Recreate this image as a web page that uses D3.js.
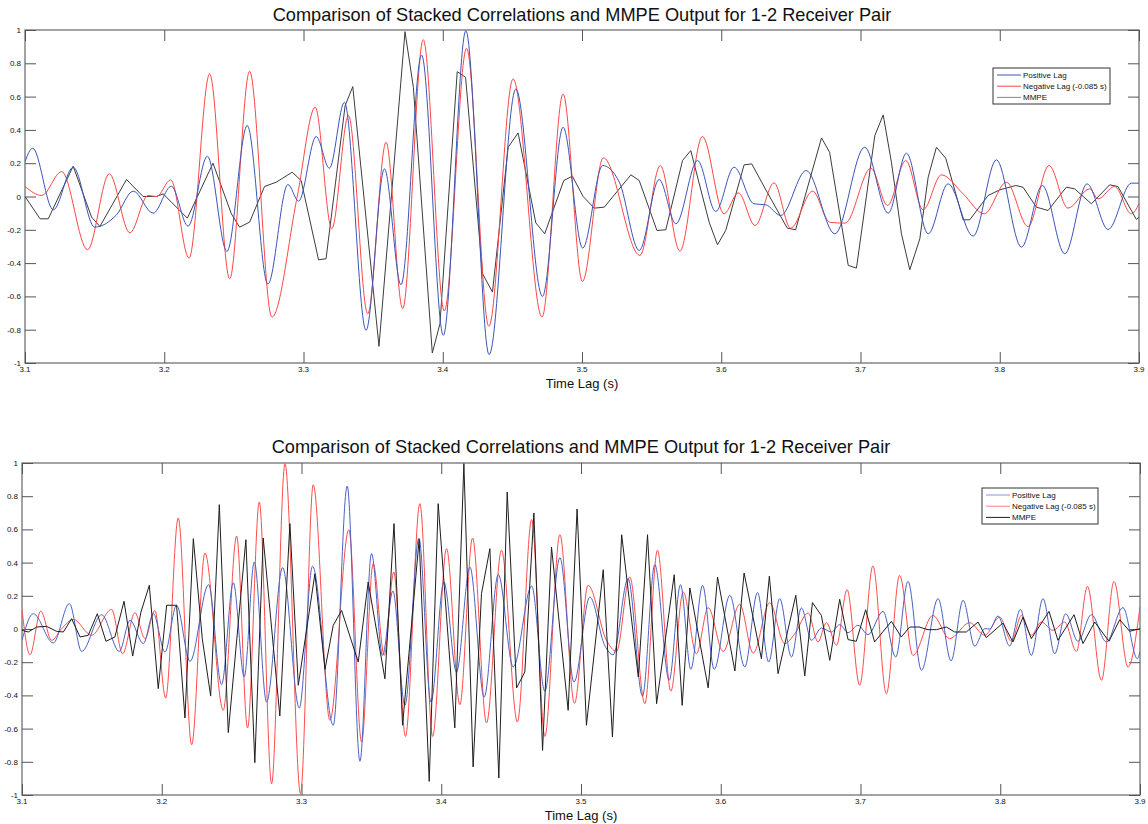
<!DOCTYPE html>
<html><head><meta charset="utf-8">
<script src="https://cdn.jsdelivr.net/npm/d3@7"></script>
<style>body{margin:0;background:#fff} text{font-family:"Liberation Sans",Arial,sans-serif;fill:#111}</style>
</head><body><svg id="c" width="1148" height="824"></svg>
<script>
const xTicks = [3.1,3.2,3.3,3.4,3.5,3.6,3.7,3.8,3.9];
const yTicks = [-1,-0.8,-0.6,-0.4,-0.2,0,0.2,0.4,0.6,0.8,1];
const seriesNames = ["Positive Lag","Negative Lag (-0.085 s)","MMPE"];
const titleText = "Comparison of Stacked Correlations and MMPE Output for 1-2 Receiver Pair";
const xLabelText = "Time Lag (s)";

const topPositive = [[3.1,0.21],[3.1055,0.29],[3.1203,-0.08],[3.1346,0.176],[3.150,-0.184],[3.1657,-0.11],[3.1777,0.032],[3.192,-0.10],[3.2051,0.062],[3.2171,-0.178],[3.231,0.242],[3.245,-0.33],[3.2596,0.426],[3.2744,-0.526],[3.2888,0.072],[3.2965,-0.028],[3.3091,0.36],[3.3186,0.17],[3.3294,0.566],[3.3449,-0.804],[3.3581,0.166],[3.370,-0.53],[3.3848,0.85],[3.4004,-0.834],[3.4166,0.996],[3.4333,-0.95],[3.4525,0.646],[3.4716,-0.60],[3.4864,0.416],[3.5005,-0.31],[3.5148,0.186],[3.5268,0.086],[3.5411,-0.324],[3.5554,0.102],[3.5674,-0.164],[3.583,0.216],[3.596,-0.09],[3.6092,0.176],[3.6235,-0.044],[3.632,-0.05],[3.6427,-0.114],[3.661,0.156],[3.6816,-0.224],[3.703,0.296],[3.7199,-0.10],[3.733,0.26],[3.7486,-0.224],[3.7629,0.076],[3.7809,-0.238],[3.7976,0.22],[3.8156,-0.304],[3.8306,0.066],[3.8467,-0.344],[3.8627,0.076],[3.8778,-0.198],[3.8945,0.08],[3.9,0.08]];

const topNegative = [[3.1,0.06],[3.112,0.006],[3.1263,0.15],[3.1449,-0.32],[3.1605,0.136],[3.1753,-0.218],[3.1884,0.006],[3.1944,0.0],[3.2047,0.10],[3.2178,-0.37],[3.2326,0.736],[3.247,-0.494],[3.2613,0.752],[3.2773,-0.724],[3.2955,0.0],[3.3084,0.536],[3.3203,-0.194],[3.3323,0.486],[3.3461,-0.704],[3.3593,0.326],[3.3712,-0.674],[3.386,0.942],[3.4011,-0.688],[3.4171,0.89],[3.4331,-0.78],[3.4505,0.706],[3.4713,-0.724],[3.4864,0.616],[3.5003,-0.51],[3.5153,0.232],[3.5416,-0.354],[3.5562,0.186],[3.5703,-0.328],[3.5865,0.36],[3.602,-0.104],[3.6123,0.022],[3.6243,-0.174],[3.6379,0.082],[3.6498,-0.19],[3.6656,0.032],[3.678,-0.155],[3.689,-0.16],[3.7075,0.17],[3.7194,-0.054],[3.7325,0.216],[3.745,-0.08],[3.7581,0.13],[3.7737,0.016],[3.7888,-0.104],[3.8048,0.086],[3.8203,-0.18],[3.8354,0.186],[3.849,-0.07],[3.8646,0.046],[3.8706,-0.014],[3.8825,0.06],[3.8945,-0.104],[3.9,-0.044]];

const topMMPE = [[3.1,0],[3.1108,-0.134],[3.1167,-0.134],[3.1346,0.182],[3.1478,-0.124],[3.1538,-0.18],[3.1729,0.102],[3.1848,0],[3.1944,0],[3.1992,0.016],[3.2111,-0.084],[3.2166,-0.13],[3.235,0.2],[3.2482,-0.104],[3.2541,-0.184],[3.2613,-0.154],[3.272,0.06],[3.2804,0.086],[3.2919,0.146],[3.2983,0.096],[3.3108,-0.38],[3.3162,-0.374],[3.3299,0.546],[3.3354,0.66],[3.3542,-0.90],[3.3729,0.99],[3.3789,0.656],[3.3925,-0.94],[3.398,-0.764],[3.4104,0.75],[3.4164,0.716],[3.4286,-0.464],[3.4357,-0.574],[3.447,0.296],[3.4541,0.382],[3.4668,-0.158],[3.4732,-0.224],[3.4869,0.096],[3.4931,0.122],[3.5008,0.0],[3.5088,-0.07],[3.516,-0.064],[3.5351,0.13],[3.5411,0.096],[3.5538,-0.204],[3.5602,-0.2],[3.5722,0.216],[3.5781,0.276],[3.5913,-0.154],[3.5973,-0.29],[3.6032,-0.204],[3.6164,0.19],[3.6219,0.196],[3.6307,0.06],[3.6474,-0.19],[3.6534,-0.2],[3.672,0.352],[3.6778,0.266],[3.6912,-0.414],[3.6971,-0.43],[3.7103,0.366],[3.7163,0.49],[3.7222,0.206],[3.7294,-0.224],[3.7354,-0.44],[3.7426,-0.254],[3.7486,0.116],[3.7545,0.296],[3.7612,0.23],[3.7737,-0.14],[3.7785,-0.14],[3.7916,0.006],[3.80,0.04],[3.8115,0.066],[3.8167,0.056],[3.8263,-0.064],[3.8347,-0.084],[3.8478,0.056],[3.8538,0.046],[3.8658,-0.044],[3.8789,0.07],[3.8849,0.06],[3.8981,-0.138],[3.9,-0.124]];

const bottomPositive = [[3.1,-0.068],[3.1081,0.092],[3.1224,-0.084],[3.1339,0.153],[3.1427,-0.135],[3.157,0.086],[3.1696,-0.135],[3.1773,0.052],[3.1868,-0.088],[3.194,0.092],[3.2023,-0.139],[3.2106,0.143],[3.2202,-0.195],[3.2335,0.267],[3.2428,-0.335],[3.2512,0.279],[3.259,-0.289],[3.2662,0.404],[3.275,-0.44],[3.2865,0.37],[3.2984,-0.476],[3.3079,0.378],[3.3227,-0.58],[3.3327,0.861],[3.3418,-0.797],[3.3501,0.454],[3.358,-0.159],[3.3654,0.229],[3.374,-0.46],[3.384,0.548],[3.3926,-0.44],[3.4019,0.283],[3.4109,-0.259],[3.4205,0.373],[3.4307,-0.41],[3.4408,0.329],[3.4515,-0.229],[3.4647,0.259],[3.4741,-0.375],[3.4849,0.43],[3.495,-0.32],[3.5063,0.193],[3.517,-0.1],[3.523,-0.155],[3.5337,0.303],[3.544,-0.404],[3.5528,0.388],[3.5631,-0.309],[3.5712,0.267],[3.5786,-0.243],[3.587,0.263],[3.5953,-0.243],[3.6065,0.203],[3.6172,-0.229],[3.6263,0.22],[3.6343,-0.199],[3.6422,0.183],[3.6506,-0.169],[3.6577,0.127],[3.6649,-0.068],[3.672,0.006],[3.6792,-0.018],[3.6851,0.026],[3.6911,-0.022],[3.6982,0.022],[3.7054,-0.034],[3.7161,0.106],[3.7252,-0.169],[3.734,0.287],[3.7436,-0.249],[3.7555,0.183],[3.7648,-0.192],[3.7734,0.173],[3.7817,-0.104],[3.7889,0.002],[3.7925,0.0],[3.7984,0.078],[3.8067,-0.102],[3.8144,0.118],[3.8222,-0.159],[3.8306,0.183],[3.839,-0.149],[3.8468,0.092],[3.8556,-0.074],[3.8652,0.086],[3.8759,-0.078],[3.8878,0.129],[3.8981,-0.179],[3.9,-0.135]];

const bottomNegative = [[3.1,0.116],[3.1057,-0.155],[3.1134,0.108],[3.1212,-0.068],[3.1284,0.002],[3.1367,0.058],[3.1498,-0.038],[3.1641,0.118],[3.172,-0.149],[3.1808,0.098],[3.188,-0.058],[3.1951,0.112],[3.2028,-0.416],[3.2118,0.669],[3.2214,-0.697],[3.2309,0.458],[3.244,-0.49],[3.2536,0.56],[3.2614,-0.596],[3.2698,0.765],[3.2786,-0.932],[3.2882,0.996],[3.2993,-0.992],[3.3084,0.869],[3.3203,-0.55],[3.3339,0.598],[3.343,-0.681],[3.3513,0.394],[3.3592,-0.159],[3.366,0.343],[3.3744,-0.647],[3.3847,0.755],[3.3938,-0.647],[3.4038,0.484],[3.4133,-0.456],[3.4224,0.548],[3.4324,-0.566],[3.4431,0.474],[3.4545,-0.56],[3.4647,0.659],[3.4741,-0.647],[3.4849,0.568],[3.4953,-0.448],[3.5051,0.263],[3.5182,-0.068],[3.5254,-0.135],[3.5349,0.313],[3.5457,-0.45],[3.5547,0.474],[3.5643,-0.374],[3.5731,0.223],[3.5826,-0.149],[3.591,0.129],[3.6017,-0.135],[3.6136,0.149],[3.6232,-0.145],[3.635,0.158],[3.6458,-0.088],[3.653,-0.028],[3.6625,0.096],[3.6696,-0.078],[3.6756,0.038],[3.6828,-0.098],[3.6904,0.237],[3.6994,-0.339],[3.7089,0.38],[3.7185,-0.39],[3.728,0.323],[3.7375,-0.159],[3.7518,0.082],[3.7637,-0.058],[3.7781,0.038],[3.7889,-0.038],[3.7996,0.072],[3.808,-0.074],[3.8152,0.082],[3.8222,-0.038],[3.8294,0.042],[3.8378,-0.008],[3.8461,0.042],[3.8545,-0.135],[3.8624,0.257],[3.8724,-0.309],[3.8814,0.287],[3.8914,-0.229],[3.9,0.133]];

const bottomMMPE = [[3.1,-0.008],[3.1045,-0.018],[3.1105,0.012],[3.1176,0.016],[3.1248,-0.014],[3.1296,-0.018],[3.1355,0.062],[3.1415,-0.048],[3.1474,-0.038],[3.1539,0.092],[3.1601,-0.074],[3.1665,-0.048],[3.173,0.167],[3.1792,-0.163],[3.1851,0.102],[3.1911,0.263],[3.1975,-0.359],[3.2035,0.143],[3.2106,0.143],[3.2166,-0.536],[3.2226,0.544],[3.229,-0.058],[3.235,-0.404],[3.2412,0.749],[3.2476,-0.624],[3.2602,0.538],[3.2666,-0.805],[3.2726,0.548],[3.2845,-0.524],[3.2917,0.635],[3.2977,-0.339],[3.3096,0.333],[3.3168,-0.243],[3.3227,0.022],[3.3287,0.112],[3.3406,-0.199],[3.3477,0.283],[3.3597,-0.30],[3.3662,0.635],[3.3723,-0.58],[3.3842,0.54],[3.3914,-0.918],[3.3978,0.755],[3.4097,-0.596],[3.4162,0.996],[3.4228,-0.831],[3.4288,0.213],[3.4348,0.484],[3.4412,-0.898],[3.4472,0.825],[3.4539,-0.355],[3.4598,-0.259],[3.4663,0.699],[3.4725,-0.731],[3.4789,0.494],[3.4908,-0.49],[3.4972,0.723],[3.5039,-0.58],[3.5159,0.357],[3.5225,-0.651],[3.5291,0.568],[3.541,-0.289],[3.5476,0.568],[3.5541,-0.45],[3.5667,0.327],[3.5724,-0.46],[3.5779,0.247],[3.591,-0.355],[3.5977,0.313],[3.6101,-0.253],[3.6167,0.337],[3.6291,-0.179],[3.6348,0.319],[3.641,-0.269],[3.6537,0.203],[3.6601,-0.283],[3.6656,0.159],[3.672,0.082],[3.678,-0.189],[3.6851,0.179],[3.6911,-0.064],[3.697,-0.074],[3.7037,0.116],[3.7101,-0.078],[3.7221,0.046],[3.7292,-0.048],[3.7352,0.012],[3.7419,0.012],[3.7483,-0.004],[3.7543,-0.004],[3.7614,0.012],[3.7674,-0.018],[3.7757,-0.018],[3.7841,0.042],[3.79,-0.052],[3.8019,0.036],[3.8091,-0.078],[3.8163,0.072],[3.8222,-0.058],[3.8349,0.106],[3.8413,-0.068],[3.8528,0.086],[3.8592,-0.088],[3.8676,0.042],[3.8778,-0.074],[3.8855,0.056],[3.8926,-0.014],[3.9,0.002]];

const svg = d3.select("#c");

function panel(cfg){
  const g = svg.append("g");
  const x = d3.scaleLinear().domain([3.1,3.9]).range([cfg.left,cfg.right]);
  const y = d3.scaleLinear().domain([-1,1]).range([cfg.bottom,cfg.top]);
  const tl = 11;
  g.append("rect").attr("x",cfg.left).attr("y",cfg.top).attr("width",cfg.right-cfg.left).attr("height",cfg.bottom-cfg.top)
    .attr("fill","none").attr("stroke","#666").attr("stroke-width",1.2);
  const fmt = d => String(+d.toFixed(1));
  const ax = [
    [d3.axisBottom(x).tickValues(xTicks).tickSize(tl).tickFormat(""), `translate(0,${cfg.bottom-tl})`],
    [d3.axisTop(x).tickValues(xTicks).tickSize(tl).tickFormat(""), `translate(0,${cfg.top+tl})`],
    [d3.axisLeft(y).tickValues(yTicks).tickSize(tl).tickFormat(""), `translate(${cfg.left+tl},0)`],
    [d3.axisRight(y).tickValues(yTicks).tickSize(tl).tickFormat(""), `translate(${cfg.right-tl},0)`]
  ];
  ax.forEach(([a,t])=>{
    const ag = g.append("g").attr("transform",t).call(a);
    ag.select(".domain").remove();
    ag.selectAll("line").attr("stroke","#555");
  });
  g.append("g").selectAll("text").data(xTicks).join("text")
    .attr("x",d=>x(d)).attr("y",cfg.bottom+9).attr("text-anchor","middle")
    .attr("font-size",8).text(d=>d.toFixed(1));
  g.append("g").selectAll("text").data(yTicks).join("text")
    .attr("x",cfg.left-4).attr("y",d=>y(d)+3).attr("text-anchor","end")
    .attr("font-size",8).text(fmt);
  g.append("text").attr("x",(cfg.left+cfg.right)/2).attr("y",cfg.titleY).attr("text-anchor","middle")
    .attr("font-size",18.2).text(titleText);
  g.append("text").attr("x",(cfg.left+cfg.right)/2).attr("y",cfg.xlabelY).attr("text-anchor","middle")
    .attr("font-size",13).text(xLabelText);
  const smooth = d3.line().x(d=>x(d[0])).y(d=>y(d[1])).curve(d3.curveMonotoneX);
  const straight = d3.line().x(d=>x(d[0])).y(d=>y(d[1]));
  const clipId = "clip"+cfg.id;
  svg.append("clipPath").attr("id",clipId).append("rect")
    .attr("x",cfg.left).attr("y",cfg.top).attr("width",cfg.right-cfg.left).attr("height",cfg.bottom-cfg.top);
  const lg = g.append("g").attr("clip-path",`url(#${clipId})`);
  cfg.order.forEach(k=>{
    const s = cfg.series[k];
    lg.append("path").attr("d",(s.smooth?smooth:straight)(s.data)).attr("fill","none")
      .attr("stroke",s.color).attr("stroke-width",1).attr("stroke-linejoin","round");
  });
  const L = cfg.legend;
  g.append("rect").attr("x",L.x).attr("y",L.y).attr("width",L.w).attr("height",L.h)
    .attr("fill","#fff").attr("stroke","#333").attr("stroke-width",1);
  seriesNames.forEach((n,i)=>{
    const yy = L.y + 7 + i*11.2;
    g.append("line").attr("x1",L.x+4).attr("x2",L.x+28).attr("y1",yy).attr("y2",yy)
      .attr("stroke",cfg.series[i].legendColor||cfg.series[i].color).attr("stroke-width",1);
    g.append("text").attr("x",L.x+30).attr("y",yy+3).attr("font-size",8).text(n);
  });
}

panel({id:1,left:25,right:1139,top:30,bottom:363,titleY:21,xlabelY:388,
  legend:{x:993,y:68,w:117,h:36},
  order:[2,1,0],
  series:[{data:topPositive,color:"#3a55b8",smooth:true},
          {data:topNegative,color:"#ff4646",smooth:true},
          {data:topMMPE,color:"#3c3c3c",smooth:false,legendColor:"#888"}]});

panel({id:2,left:22,right:1140,top:463,bottom:795,titleY:453,xlabelY:820,
  legend:{x:982,y:488,w:116,h:36},
  order:[1,0,2],
  series:[{data:bottomPositive,color:"#4a62c4",smooth:true,legendColor:"#8a90e0"},
          {data:bottomNegative,color:"#ff4c4c",smooth:true,legendColor:"#ff8080"},
          {data:bottomMMPE,color:"#1e1e1e",smooth:false}]});
</script></body></html>
